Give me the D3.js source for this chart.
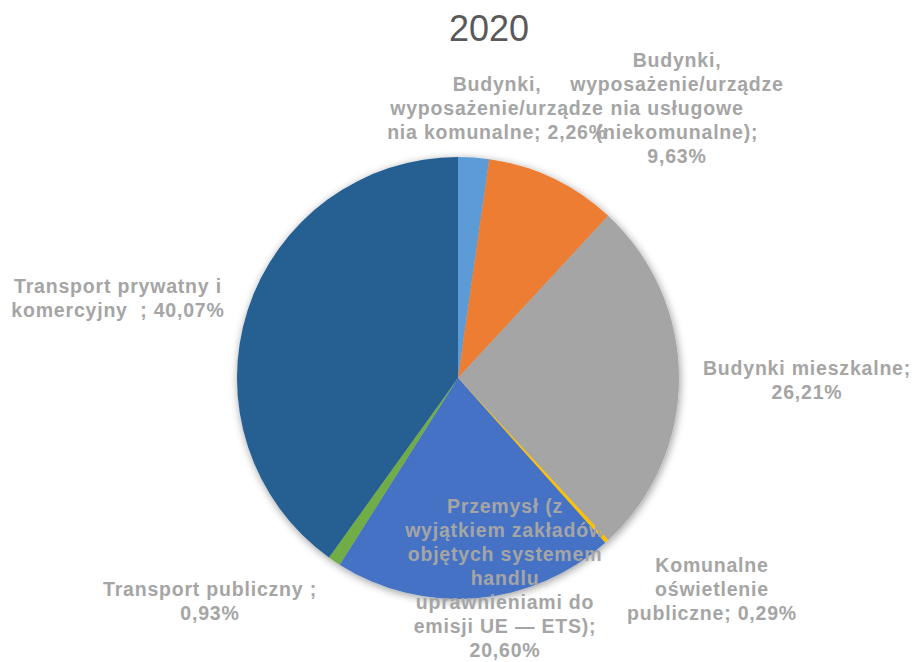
<!DOCTYPE html>
<html>
<head>
<meta charset="utf-8">
<script src="https://cdn.jsdelivr.net/npm/d3@7"></script>
<style>
  html, body { margin: 0; padding: 0; background: #ffffff; }
  svg { display: block; }
  .lbl { font-family: "Liberation Sans", Arial, sans-serif; font-weight: bold; fill: #a5a5a5; white-space: pre; }
  .title { font-family: "Liberation Sans", Arial, sans-serif; fill: #595959; }
</style>
</head>
<body>
<svg id="chart" width="914" height="662"></svg>
<script>
// Emission shares by sector, 2020 (clockwise from 12 o'clock)
const categories = [
  "Budynki, wyposażenie/urządzenia komunalne",
  "Budynki, wyposażenie/urządzenia usługowe (niekomunalne)",
  "Budynki mieszkalne",
  "Komunalne oświetlenie publiczne",
  "Przemysł (z wyjątkiem zakładów objętych systemem handlu uprawnieniami do emisji UE — ETS)",
  "Transport publiczny",
  "Transport prywatny i komercyjny"
];
const values = [2.26, 9.63, 26.21, 0.29, 20.60, 0.93, 40.07];
const colors = ["#5b9bd5", "#ed7d31", "#a5a5a5", "#ffc000", "#4472c4", "#70ad47", "#255e91"];

// Label lines as wrapped in the chart
const labelLines = [
  ["Budynki,", "wyposażenie/urządze", "nia komunalne; 2,26%"],
  ["Budynki,", "wyposażenie/urządze", "nia usługowe", "(niekomunalne);", "9,63%"],
  ["Budynki mieszkalne;", "26,21%"],
  ["Komunalne", "oświetlenie", "publiczne; 0,29%"],
  ["Przemysł (z", "wyjątkiem zakładów", "objętych systemem", "handlu", "uprawnieniami do", "emisji UE — ETS);", "20,60%"],
  ["Transport publiczny ;", "0,93%"],
  ["Transport prywatny i", "komercyjny  ; 40,07%"]
];
// Label anchor (centre x, first baseline y)
const labelPos = [
  [497, 91], [677, 67], [807, 375], [712, 572], [505, 513], [210, 596], [118, 293]
];

const svg = d3.select("#chart");
const cx = 458, cy = 378, r = 221;

const defs = svg.append("defs");
const f = defs.append("filter").attr("id", "shadow")
  .attr("x", "-20%").attr("y", "-20%").attr("width", "140%").attr("height", "140%");
f.append("feGaussianBlur").attr("in", "SourceAlpha").attr("stdDeviation", 4).attr("result", "b");
f.append("feOffset").attr("in", "b").attr("dx", 1).attr("dy", 2).attr("result", "o");
f.append("feComponentTransfer").attr("in", "o").attr("result", "s")
  .append("feFuncA").attr("type", "linear").attr("slope", 0.4);
const m = f.append("feMerge");
m.append("feMergeNode").attr("in", "s");
m.append("feMergeNode").attr("in", "SourceGraphic");

svg.append("text").attr("class", "title")
  .attr("x", 489).attr("y", 41).attr("text-anchor", "middle")
  .attr("font-size", 36).text("2020");

const pie = d3.pie().sort(null).value(d => d);
const arc = d3.arc().innerRadius(0).outerRadius(r);

const g = svg.append("g").attr("transform", `translate(${cx},${cy})`);
g.append("g").attr("filter", "url(#shadow)")
  .selectAll("path")
  .data(pie(values))
  .join("path")
  .attr("d", arc)
  .attr("fill", (d, i) => colors[i]);

const lh = 24;
labelLines.forEach((lines, i) => {
  const t = svg.append("text").attr("class", "lbl")
    .attr("font-size", 19.5).attr("letter-spacing", 0.8)
    .attr("text-anchor", "middle");
  lines.forEach((ln, j) => {
    t.append("tspan").attr("x", labelPos[i][0]).attr("y", labelPos[i][1] + j * lh).text(ln);
  });
});
</script>
</body>
</html>
